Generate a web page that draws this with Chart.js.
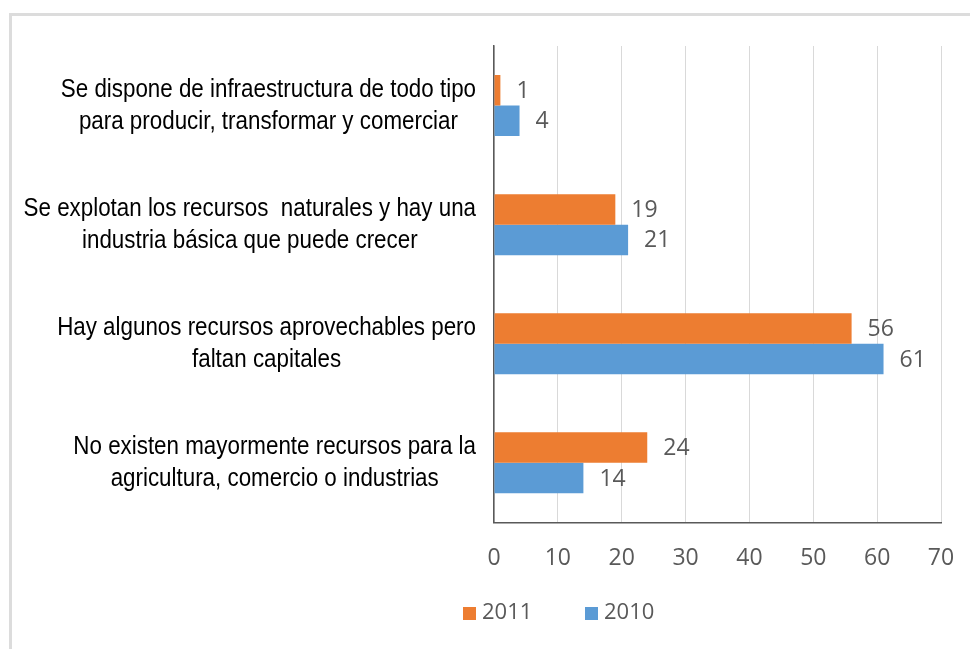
<!DOCTYPE html>
<html>
<head>
<meta charset="utf-8">
<script src="https://cdn.jsdelivr.net/npm/chart.js@4.4.0/dist/chart.umd.min.js"></script>
<style>
    body { margin: 0; background: #fff; }
    #marco {
        position: absolute; left: 9px; top: 13px; width: 970px; height: 650px;
        border-top: 3px solid #dcdcdc; border-left: 3px solid #dcdcdc;
    }
    #grafico { position: absolute; left: 0; top: 0; }
    .leyenda { position: absolute; top: 596px; font: 22px 'Open Sans', sans-serif; color: #595959; line-height: 28px; }
    .leyenda span { display: inline-block; width: 13px; height: 13px; margin-right: 6px; vertical-align: -1px; }
</style>
</head>
<body>
<div id="marco"></div>
<canvas id="grafico" width="970" height="649"></canvas>
<div class="leyenda" style="left:463px"><span style="background:#ED7D31"></span>2011</div>
<div class="leyenda" style="left:585px"><span style="background:#5B9BD5"></span>2010</div>
<script>
// Categorías (cada una en dos líneas)
const categorias = [
    ['Se dispone de infraestructura de todo tipo', 'para producir, transformar y comerciar'],
    ['Se explotan los recursos  naturales y hay una', 'industria básica que puede crecer'],
    ['Hay algunos recursos aprovechables pero', 'faltan capitales'],
    ['No existen mayormente recursos para la', 'agricultura, comercio o industrias']
];
const valores2011 = [1, 19, 56, 24];
const valores2010 = [4, 21, 61, 14];
const ticksX = [0, 10, 20, 30, 40, 50, 60, 70];

// Etiquetas de valor y de categoría
const etiquetasPlugin = {
    id: 'etiquetas',
    afterDatasetsDraw(chart) {
        const ctx = chart.ctx;
        ctx.save();
        ctx.font = "23px 'Open Sans', sans-serif";
        ctx.fillStyle = '#595959';
        ctx.textAlign = 'left';
        ctx.textBaseline = 'middle';
        chart.data.datasets.forEach((ds, i) => {
            chart.getDatasetMeta(i).data.forEach((bar, j) => {
                ctx.fillText(ds.data[j], bar.x + 16, bar.y + 1);
            });
        });

        // letra estrecha: Liberation Sans comprimida en horizontal
        const comp = 0.86;
        ctx.font = "26px 'Liberation Sans', Arial, sans-serif";
        ctx.fillStyle = '#000';
        ctx.textAlign = 'center';
        const yScale = chart.scales.y;
        categorias.forEach((lineas, j) => {
            const y = yScale.getPixelForValue(j);
            const ancho = Math.max(...lineas.map(l => ctx.measureText(l).width)) * comp;
            const x = chart.chartArea.left - 18 - ancho / 2;
            lineas.forEach((l, k) => {
                ctx.save();
                ctx.translate(x, y + (k - (lineas.length - 1) / 2) * 32);
                ctx.scale(comp, 1);
                ctx.fillText(l, 0, 0);
                ctx.restore();
            });
        });
        ctx.restore();
    }
};

const ctx = document.getElementById('grafico').getContext('2d');
new Chart(ctx, {
    type: 'bar',
    data: {
        labels: categorias.map(c => c.join(' ')),
        datasets: [
            { label: '2011', data: valores2011, backgroundColor: '#ED7D31' },
            { label: '2010', data: valores2010, backgroundColor: '#5B9BD5' }
        ]
    },
    options: {
        indexAxis: 'y',
        responsive: false,
        animation: false,
        layout: { padding: { left: 494, right: 29, top: 46, bottom: 73 } },
        datasets: { bar: { categoryPercentage: 0.512, barPercentage: 1 } },
        scales: {
            x: {
                min: 0,
                max: 70,
                afterBuildTicks(scale) { scale.ticks = ticksX.map(v => ({ value: v })); },
                grid: { color: '#d9d9d9', drawTicks: true, tickLength: 18, tickColor: 'rgba(0,0,0,0)' },
                border: { color: '#595959', width: 1.5 },
                ticks: { padding: 4, color: '#595959', font: { family: "'Open Sans', sans-serif", size: 23 } }
            },
            y: {
                grid: { display: false, drawTicks: false },
                border: { color: '#595959', width: 1.5 },
                ticks: { display: false }
            }
        },
        plugins: { legend: { display: false }, tooltip: { enabled: false } }
    },
    plugins: [etiquetasPlugin]
});
</script>
</body>
</html>
